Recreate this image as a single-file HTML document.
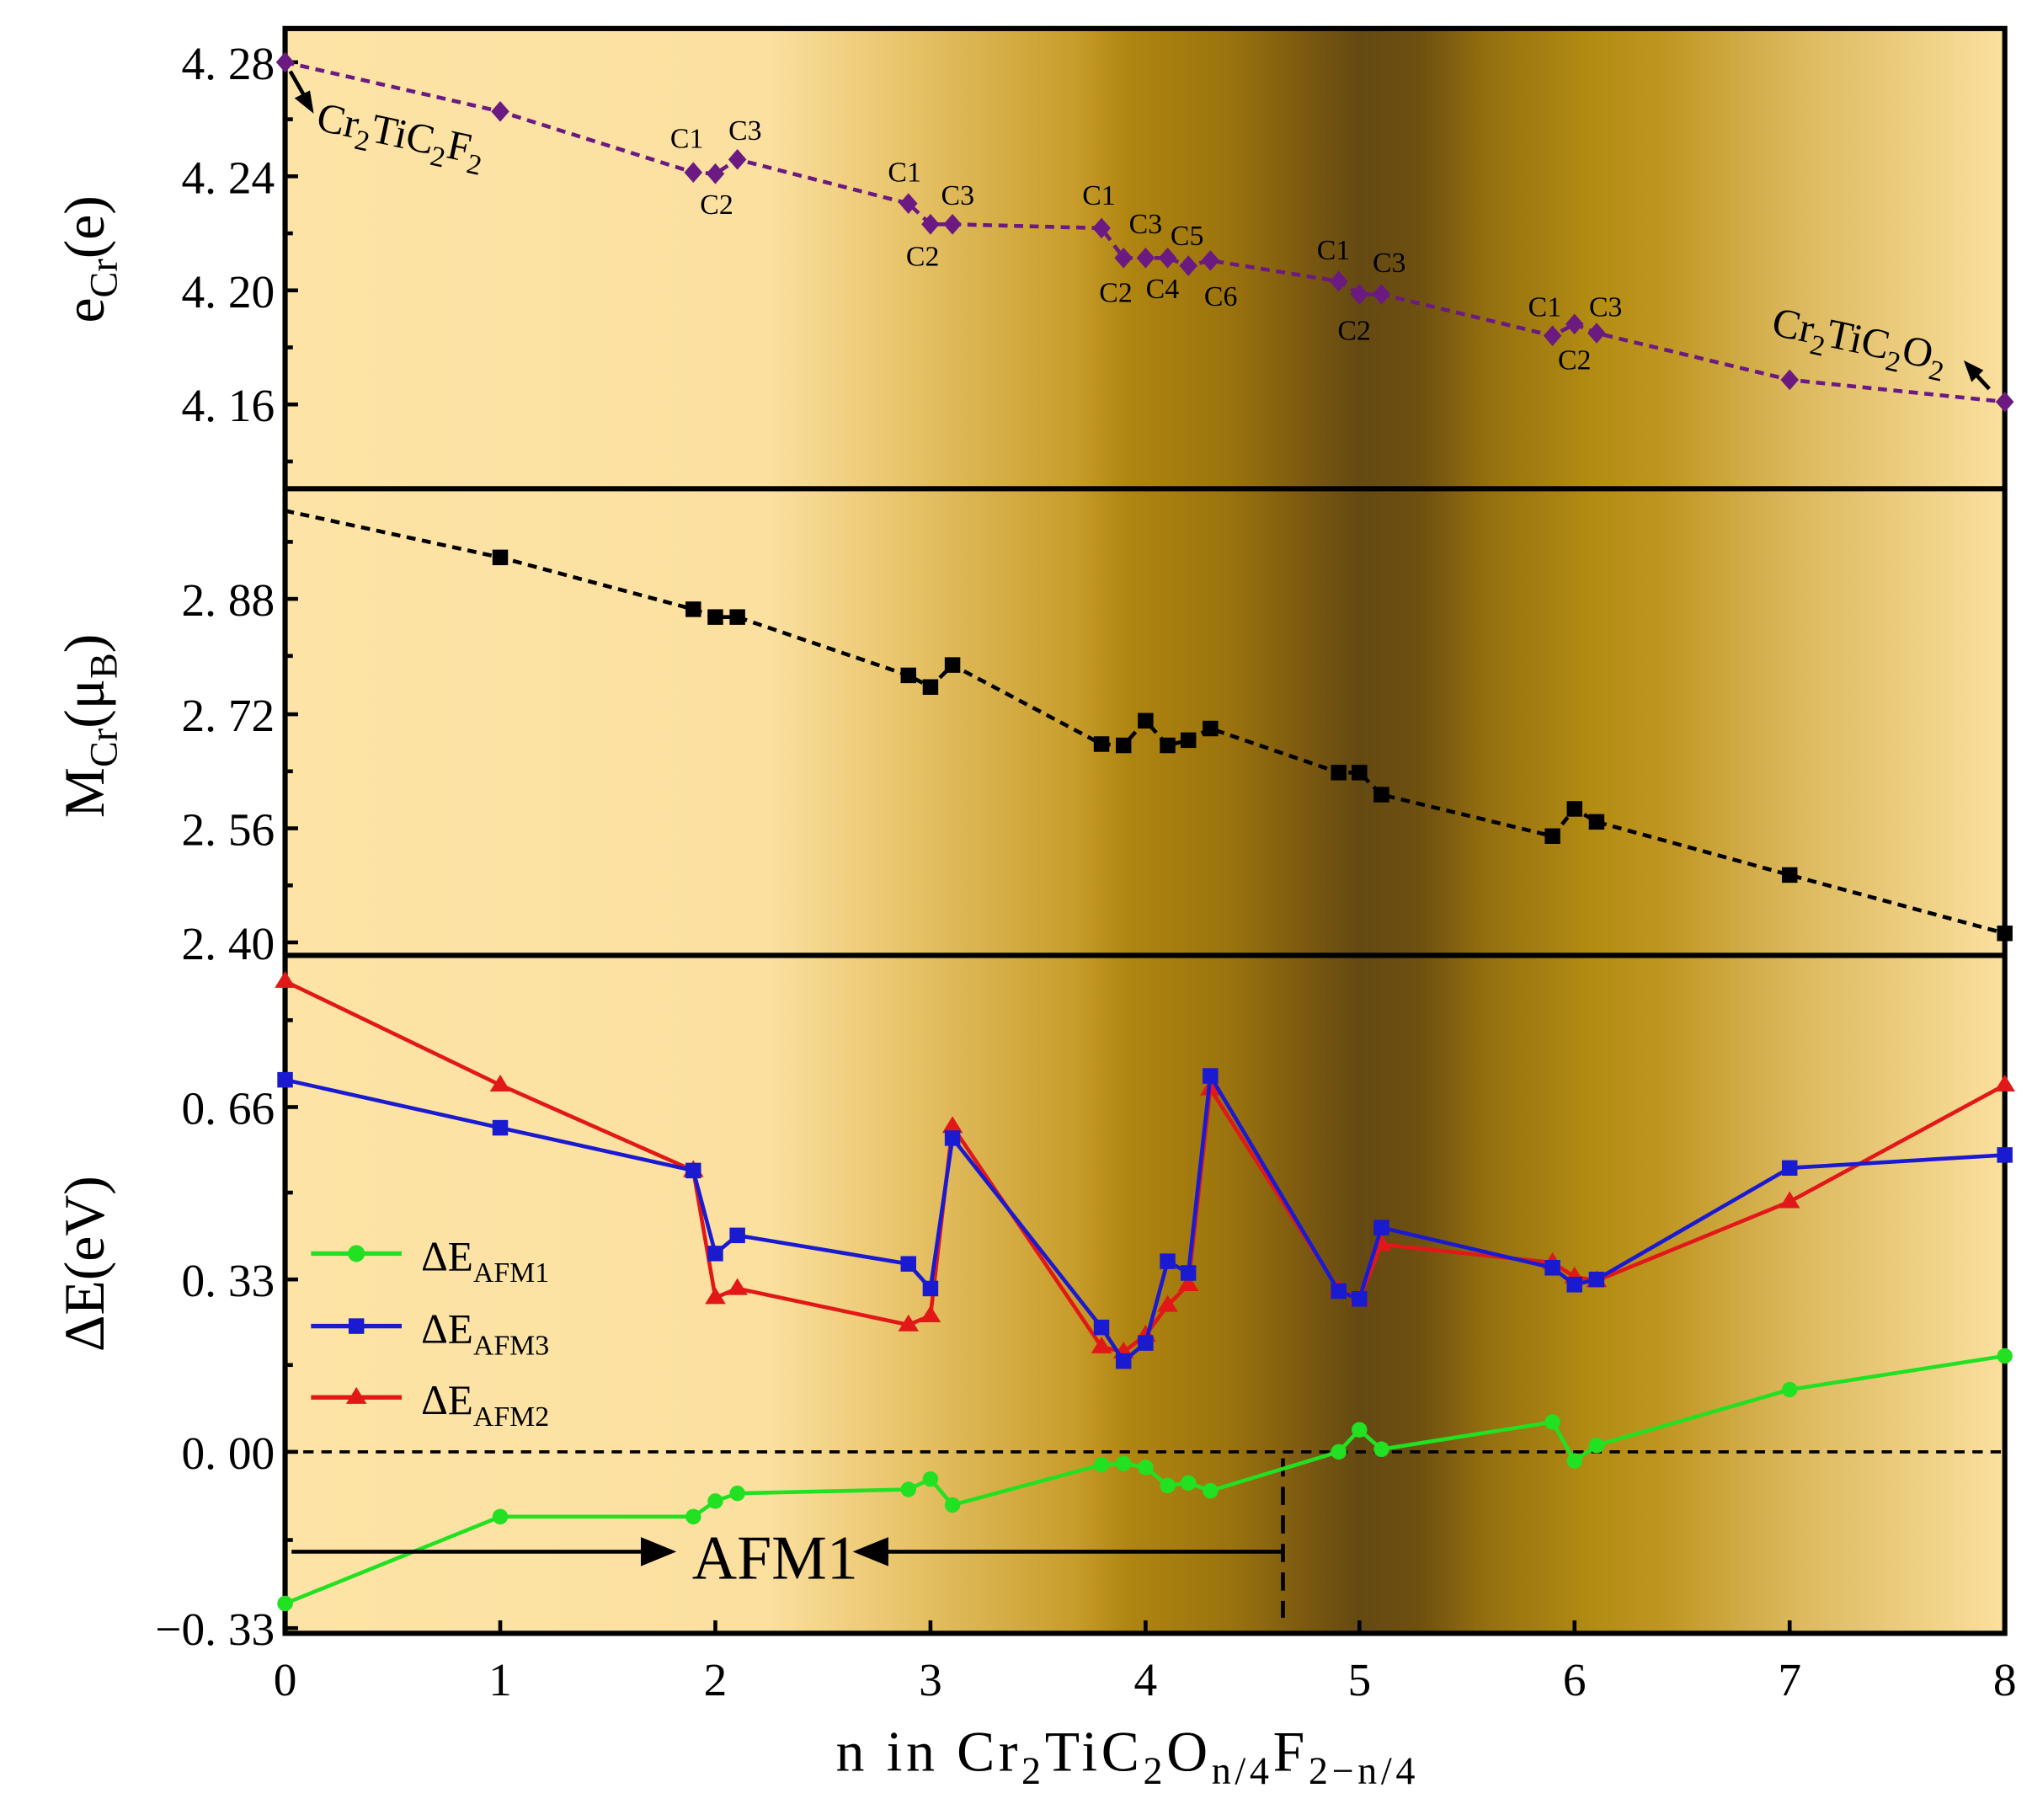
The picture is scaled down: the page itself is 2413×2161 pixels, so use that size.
<!DOCTYPE html>
<html><head><meta charset="utf-8"><style>html,body{margin:0;padding:0;background:#fff}svg{display:block}</style></head>
<body>
<svg width="2413" height="2161" viewBox="0 0 1568 1404" preserveAspectRatio="none" xmlns="http://www.w3.org/2000/svg" font-family="Liberation Serif, serif">
<defs>
<linearGradient id="bg" x1="220" y1="0" x2="1547" y2="0" gradientUnits="userSpaceOnUse">
<stop offset="0" stop-color="#fde4a6"/>
<stop offset="0.28" stop-color="#fbe0a0"/>
<stop offset="0.36" stop-color="#e8c46a"/>
<stop offset="0.46" stop-color="#c79c2a"/>
<stop offset="0.49" stop-color="#b08510"/>
<stop offset="0.55" stop-color="#9a730e"/>
<stop offset="0.595" stop-color="#7a5810"/>
<stop offset="0.625" stop-color="#644912"/>
<stop offset="0.66" stop-color="#6e5010"/>
<stop offset="0.70" stop-color="#957010"/>
<stop offset="0.76" stop-color="#b38c12"/>
<stop offset="0.8" stop-color="#bf9520"/>
<stop offset="0.88" stop-color="#dcb95e"/>
<stop offset="1" stop-color="#fbe09f"/>
</linearGradient>
</defs>
<rect x="220" y="22" width="1327" height="1238" fill="url(#bg)"/>
<g stroke="#000" stroke-width="4" fill="none">
<rect x="220" y="22" width="1327" height="1238"/>
<line x1="220" y1="377" x2="1547" y2="377"/>
<line x1="220" y1="737" x2="1547" y2="737"/>
</g>
<g stroke="#000" stroke-width="3">
<line x1="220" y1="48" x2="230" y2="48"/><line x1="220" y1="136" x2="230" y2="136"/><line x1="220" y1="224" x2="230" y2="224"/><line x1="220" y1="312" x2="230" y2="312"/>
<line x1="220" y1="92" x2="226" y2="92"/><line x1="220" y1="180" x2="226" y2="180"/><line x1="220" y1="268" x2="226" y2="268"/><line x1="220" y1="356" x2="226" y2="356"/>
<line x1="220" y1="462" x2="230" y2="462"/><line x1="220" y1="551" x2="230" y2="551"/><line x1="220" y1="639" x2="230" y2="639"/><line x1="220" y1="727" x2="230" y2="727"/>
<line x1="220" y1="418" x2="226" y2="418"/><line x1="220" y1="506" x2="226" y2="506"/><line x1="220" y1="595" x2="226" y2="595"/><line x1="220" y1="683" x2="226" y2="683"/>
<line x1="220" y1="854" x2="230" y2="854"/><line x1="220" y1="987" x2="230" y2="987"/><line x1="220" y1="1120" x2="230" y2="1120"/><line x1="220" y1="1256" x2="230" y2="1256"/>
<line x1="220" y1="787" x2="226" y2="787"/><line x1="220" y1="920" x2="226" y2="920"/><line x1="220" y1="1053" x2="226" y2="1053"/><line x1="220" y1="1188" x2="226" y2="1188"/>
<line x1="386" y1="1260" x2="386" y2="1250"/><line x1="552" y1="1260" x2="552" y2="1250"/><line x1="718" y1="1260" x2="718" y2="1250"/><line x1="884" y1="1260" x2="884" y2="1250"/><line x1="1049" y1="1260" x2="1049" y2="1250"/><line x1="1215" y1="1260" x2="1215" y2="1250"/><line x1="1381" y1="1260" x2="1381" y2="1250"/>
</g>
<g font-size="36" text-anchor="end" fill="#000">
<text x="212" y="61">4. 28</text><text x="212" y="149">4. 24</text><text x="212" y="237">4. 20</text><text x="212" y="325">4. 16</text>
<text x="212" y="475">2. 88</text><text x="212" y="564">2. 72</text><text x="212" y="652">2. 56</text><text x="212" y="740">2. 40</text>
<text x="212" y="867">0. 66</text><text x="212" y="1000">0. 33</text><text x="212" y="1133">0. 00</text><text x="212" y="1269">−0. 33</text>
</g>
<g font-size="36" text-anchor="middle" fill="#000">
<text x="220" y="1308">0</text><text x="386" y="1308">1</text><text x="552" y="1308">2</text><text x="718" y="1308">3</text><text x="884" y="1308">4</text><text x="1049" y="1308">5</text><text x="1215" y="1308">6</text><text x="1381" y="1308">7</text><text x="1547" y="1308">8</text>
</g>
<text x="870" y="1366" font-size="44" text-anchor="middle" letter-spacing="3">n in Cr<tspan font-size="30" dy="10">2</tspan><tspan dy="-10">TiC</tspan><tspan font-size="30" dy="10">2</tspan><tspan dy="-10">O</tspan><tspan font-size="30" dy="10">n/4</tspan><tspan dy="-10">F</tspan><tspan font-size="30" dy="10">2−n/4</tspan></text>
<text transform="translate(80,200) rotate(-90)" font-size="44" text-anchor="middle">e<tspan font-size="30" dy="10">Cr</tspan><tspan dy="-10">(e)</tspan></text>
<text transform="translate(80,560) rotate(-90)" font-size="44" text-anchor="middle">M<tspan font-size="30" dy="10">Cr</tspan><tspan dy="-10">(μ</tspan><tspan font-size="30" dy="10">B</tspan><tspan dy="-10">)</tspan></text>
<text transform="translate(80,975) rotate(-90)" font-size="44" text-anchor="middle">ΔE(eV)</text>
<polyline fill="none" stroke="#6a1a80" stroke-width="3" stroke-dasharray="7,5" points="220,48 386,86 535,133 552,134 569,123 701,157 718,173 735,173 850,176 867,199 884,199 901,199 917,205 934,201 1033,217 1049,227 1066,227 1198,259 1215,250 1232,257 1381,293 1547,310"/>
<g fill="#6a1a80">
<path d="M220,40l7,8-7,8-7-8z"/><path d="M386,78l7,8-7,8-7-8z"/><path d="M535,125l7,8-7,8-7-8z"/><path d="M552,126l7,8-7,8-7-8z"/><path d="M569,115l7,8-7,8-7-8z"/><path d="M701,149l7,8-7,8-7-8z"/><path d="M718,165l7,8-7,8-7-8z"/><path d="M735,165l7,8-7,8-7-8z"/><path d="M850,168l7,8-7,8-7-8z"/><path d="M867,191l7,8-7,8-7-8z"/><path d="M884,191l7,8-7,8-7-8z"/><path d="M901,191l7,8-7,8-7-8z"/><path d="M917,197l7,8-7,8-7-8z"/><path d="M934,193l7,8-7,8-7-8z"/><path d="M1033,209l7,8-7,8-7-8z"/><path d="M1049,219l7,8-7,8-7-8z"/><path d="M1066,219l7,8-7,8-7-8z"/><path d="M1198,251l7,8-7,8-7-8z"/><path d="M1215,242l7,8-7,8-7-8z"/><path d="M1232,249l7,8-7,8-7-8z"/><path d="M1381,285l7,8-7,8-7-8z"/><path d="M1547,302l7,8-7,8-7-8z"/>
</g>
<g font-size="22" text-anchor="middle" fill="#000">
<text x="530" y="114">C1</text><text x="575" y="108">C3</text><text x="553" y="165">C2</text>
<text x="698" y="140">C1</text><text x="739" y="158">C3</text><text x="712" y="205">C2</text>
<text x="848" y="158">C1</text><text x="884" y="180">C3</text><text x="916" y="189">C5</text><text x="861" y="233">C2</text><text x="897" y="230">C4</text><text x="942" y="236">C6</text>
<text x="1029" y="200">C1</text><text x="1072" y="210">C3</text><text x="1045" y="262">C2</text>
<text x="1192" y="244">C1</text><text x="1239" y="244">C3</text><text x="1215" y="285">C2</text>
</g>
<text x="243" y="100" font-size="32" transform="rotate(12 243 100)">Cr<tspan font-size="22" dy="8">2</tspan><tspan dy="-8">TiC</tspan><tspan font-size="22" dy="8">2</tspan><tspan dy="-8">F</tspan><tspan font-size="22" dy="8">2</tspan></text>
<text x="1366" y="258" font-size="32" transform="rotate(12 1366 258)">Cr<tspan font-size="22" dy="8">2</tspan><tspan dy="-8">TiC</tspan><tspan font-size="22" dy="8">2</tspan><tspan dy="-8">O</tspan><tspan font-size="22" dy="8">2</tspan></text>
<g stroke="#000" stroke-width="3" fill="#000">
<line x1="224" y1="55" x2="236" y2="76"/><path d="M240,84l-10-8 8-4z"/>
<line x1="1522" y1="286" x2="1535" y2="300"/><path d="M1518,281l10,5-6,6z"/>
</g>
<polyline fill="none" stroke="#000" stroke-width="3" stroke-dasharray="7,5" points="220,394 386,430 535,470 552,476 569,476 701,521 718,530 735,513 850,574 867,575 884,556 901,575 917,571 934,562 1033,596 1049,596 1066,613 1198,645 1215,624 1232,634 1381,675 1547,720"/>
<g fill="#000">
<rect x="380" y="424" width="12" height="12"/><rect x="529" y="464" width="12" height="12"/><rect x="546" y="470" width="12" height="12"/><rect x="563" y="470" width="12" height="12"/><rect x="695" y="515" width="12" height="12"/><rect x="712" y="524" width="12" height="12"/><rect x="729" y="507" width="12" height="12"/><rect x="844" y="568" width="12" height="12"/><rect x="861" y="569" width="12" height="12"/><rect x="878" y="550" width="12" height="12"/><rect x="895" y="569" width="12" height="12"/><rect x="911" y="565" width="12" height="12"/><rect x="928" y="556" width="12" height="12"/><rect x="1027" y="590" width="12" height="12"/><rect x="1043" y="590" width="12" height="12"/><rect x="1060" y="607" width="12" height="12"/><rect x="1192" y="639" width="12" height="12"/><rect x="1209" y="618" width="12" height="12"/><rect x="1226" y="628" width="12" height="12"/><rect x="1375" y="669" width="12" height="12"/><rect x="1541" y="714" width="12" height="12"/>
</g>
<line x1="220" y1="1120" x2="1547" y2="1120" stroke="#000" stroke-width="2.5" stroke-dasharray="8,6"/>
<line x1="990" y1="1125" x2="990" y2="1248" stroke="#000" stroke-width="3" stroke-dasharray="14,8"/>
<polyline fill="none" stroke="#e21818" stroke-width="3" points="220,757 386,837 535,903 552,1001 569,994 701,1022 718,1015 735,869 850,1039 867,1043 884,1030 901,1007 917,991 934,840 1033,995 1049,1002 1066,960 1198,974 1215,985 1232,988 1381,927 1547,837"/>
<g fill="#e21818">
<path d="M220,749l8,13h-16z"/><path d="M386,829l8,13h-16z"/><path d="M535,895l8,13h-16z"/><path d="M552,993l8,13h-16z"/><path d="M569,986l8,13h-16z"/><path d="M701,1014l8,13h-16z"/><path d="M718,1007l8,13h-16z"/><path d="M735,861l8,13h-16z"/><path d="M850,1031l8,13h-16z"/><path d="M867,1035l8,13h-16z"/><path d="M884,1022l8,13h-16z"/><path d="M901,999l8,13h-16z"/><path d="M917,983l8,13h-16z"/><path d="M934,832l8,13h-16z"/><path d="M1033,987l8,13h-16z"/><path d="M1049,994l8,13h-16z"/><path d="M1066,952l8,13h-16z"/><path d="M1198,966l8,13h-16z"/><path d="M1215,977l8,13h-16z"/><path d="M1232,980l8,13h-16z"/><path d="M1381,919l8,13h-16z"/><path d="M1547,829l8,13h-16z"/>
</g>
<polyline fill="none" stroke="#1a1ad0" stroke-width="3" points="220,833 386,870 535,903 552,967 569,953 701,975 718,994 735,878 850,1024 867,1050 884,1036 901,973 917,982 934,830 1033,996 1049,1002 1066,947 1198,978 1215,991 1232,987 1381,901 1547,891"/>
<g fill="#1a1ad0">
<rect x="214" y="827" width="12" height="12"/><rect x="380" y="864" width="12" height="12"/><rect x="529" y="897" width="12" height="12"/><rect x="546" y="961" width="12" height="12"/><rect x="563" y="947" width="12" height="12"/><rect x="695" y="969" width="12" height="12"/><rect x="712" y="988" width="12" height="12"/><rect x="729" y="872" width="12" height="12"/><rect x="844" y="1018" width="12" height="12"/><rect x="861" y="1044" width="12" height="12"/><rect x="878" y="1030" width="12" height="12"/><rect x="895" y="967" width="12" height="12"/><rect x="911" y="976" width="12" height="12"/><rect x="928" y="824" width="12" height="12"/><rect x="1027" y="990" width="12" height="12"/><rect x="1043" y="996" width="12" height="12"/><rect x="1060" y="941" width="12" height="12"/><rect x="1192" y="972" width="12" height="12"/><rect x="1209" y="985" width="12" height="12"/><rect x="1226" y="981" width="12" height="12"/><rect x="1375" y="895" width="12" height="12"/><rect x="1541" y="885" width="12" height="12"/>
</g>
<polyline fill="none" stroke="#22e022" stroke-width="3" points="220,1237 386,1170 535,1170 552,1158 569,1152 701,1149 718,1141 735,1161 850,1130 867,1129 884,1132 901,1146 917,1144 934,1150 1033,1120 1049,1103 1066,1118 1198,1097 1215,1127 1232,1115 1381,1072 1547,1046"/>
<g fill="#22e022">
<circle cx="220" cy="1237" r="6"/><circle cx="386" cy="1170" r="6"/><circle cx="535" cy="1170" r="6"/><circle cx="552" cy="1158" r="6"/><circle cx="569" cy="1152" r="6"/><circle cx="701" cy="1149" r="6"/><circle cx="718" cy="1141" r="6"/><circle cx="735" cy="1161" r="6"/><circle cx="850" cy="1130" r="6"/><circle cx="867" cy="1129" r="6"/><circle cx="884" cy="1132" r="6"/><circle cx="901" cy="1146" r="6"/><circle cx="917" cy="1144" r="6"/><circle cx="934" cy="1150" r="6"/><circle cx="1033" cy="1120" r="6"/><circle cx="1049" cy="1103" r="6"/><circle cx="1066" cy="1118" r="6"/><circle cx="1198" cy="1097" r="6"/><circle cx="1215" cy="1127" r="6"/><circle cx="1232" cy="1115" r="6"/><circle cx="1381" cy="1072" r="6"/><circle cx="1547" cy="1046" r="6"/>
</g>
<line x1="240" y1="967" x2="310" y2="967" stroke="#22e022" stroke-width="3.5"/><circle cx="275" cy="967" r="6.5" fill="#22e022"/>
<line x1="240" y1="1023" x2="310" y2="1023" stroke="#1a1ad0" stroke-width="3.5"/><rect x="269" y="1017" width="12" height="12" fill="#1a1ad0"/>
<line x1="240" y1="1078" x2="310" y2="1078" stroke="#e21818" stroke-width="3.5"/><path d="M275,1070l8,13h-16z" fill="#e21818"/>
<g font-size="32">
<text x="325" y="980">ΔE<tspan font-size="22" dy="9">AFM1</tspan></text>
<text x="325" y="1036">ΔE<tspan font-size="22" dy="9">AFM3</tspan></text>
<text x="325" y="1091">ΔE<tspan font-size="22" dy="9">AFM2</tspan></text>
</g>
<g stroke="#000" stroke-width="3" fill="#000">
<line x1="225" y1="1197" x2="500" y2="1197"/><path d="M518,1197l-22,-9v18z"/>
<line x1="990" y1="1197" x2="680" y2="1197"/><path d="M662,1197l22,-9v18z"/>
</g>
<text x="598" y="1218" font-size="48" text-anchor="middle">AFM1</text>
</svg>
</body></html>
